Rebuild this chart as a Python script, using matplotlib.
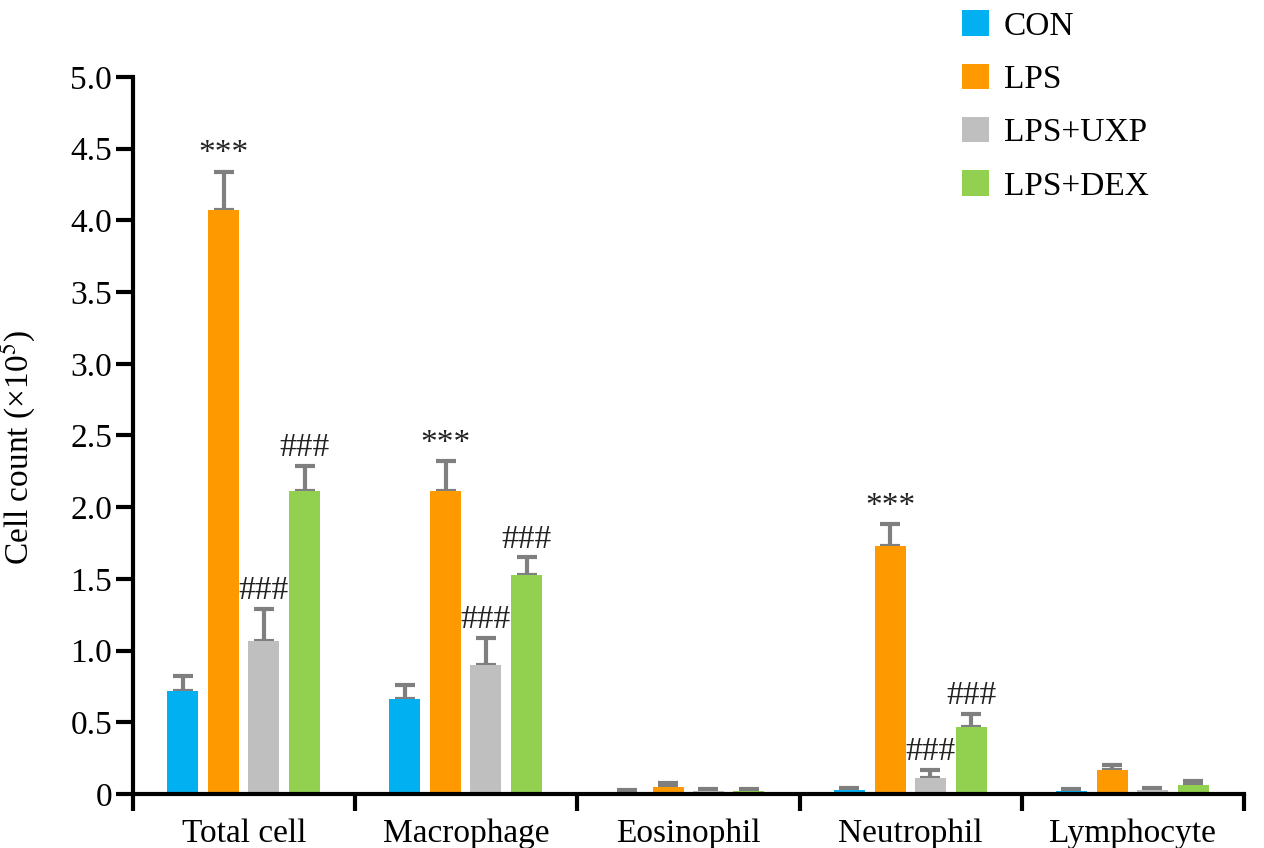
import matplotlib
matplotlib.use("Agg")
import matplotlib.pyplot as plt
import numpy as np

categories = ["Total cell", "Macrophage", "Eosinophil", "Neutrophil", "Lymphocyte"]
groups = ["CON", "LPS", "LPS+UXP", "LPS+DEX"]
colors = ["#00b0f0", "#ff9900", "#bfbfbf", "#92d050"]

con_mean = [0.72, 0.66, 0.015, 0.03, 0.02]
con_err = [0.10, 0.10, 0.015, 0.015, 0.015]
lps_mean = [4.07, 2.11, 0.05, 1.73, 0.17]
lps_err = [0.27, 0.21, 0.03, 0.15, 0.03]
uxp_mean = [1.07, 0.90, 0.02, 0.11, 0.025]
uxp_err = [0.22, 0.19, 0.015, 0.06, 0.02]
dex_mean = [2.11, 1.53, 0.02, 0.47, 0.065]
dex_err = [0.18, 0.12, 0.015, 0.09, 0.025]

lps_marks = ["***", "***", "", "***", ""]
uxp_marks = ["###", "###", "", "###", ""]
dex_marks = ["###", "###", "", "###", ""]

yticks = [0, 0.5, 1.0, 1.5, 2.0, 2.5, 3.0, 3.5, 4.0, 4.5, 5.0]
ytick_labels = ["0", "0.5", "1.0", "1.5", "2.0", "2.5", "3.0", "3.5", "4.0", "4.5", "5.0"]

plt.rcParams["font.family"] = ["Liberation Serif", "DejaVu Serif"]
plt.rcParams["mathtext.fontset"] = "stix"

FS = 24
fig = plt.figure(figsize=(12.64, 8.48), dpi=100)
ax = fig.add_axes([0.1052, 0.0637, 0.879, 0.8455])

means = [con_mean, lps_mean, uxp_mean, dex_mean]
errs = [con_err, lps_err, uxp_err, dex_err]
marks = [None, lps_marks, uxp_marks, dex_marks]
offsets = [-0.277, -0.092, 0.088, 0.272]
width = 0.14
centers = np.arange(len(categories)) + 0.5

for i in range(4):
    x = centers + offsets[i]
    ax.bar(x, means[i], width=width, color=colors[i], label=groups[i], zorder=2)
    ax.errorbar(x, means[i], yerr=[np.zeros(len(x)), errs[i]], fmt="none",
                ecolor="#7f7f7f", elinewidth=3, capsize=7, capthick=3, zorder=1)
    if marks[i] is not None:
        for xi, m, e, s in zip(x, means[i], errs[i], marks[i]):
            if s:
                ax.annotate(s, (xi, m + e), xytext=(0, 2), textcoords="offset points",
                            ha="center", va="bottom", fontsize=FS, color="#222222")

ax.set_xlim(0, 5)
ax.set_ylim(0, 5.0)
ax.set_yticks(yticks)
ax.set_yticklabels(ytick_labels, fontsize=FS)
ax.set_xticks(np.arange(0, 6))
ax.set_xticklabels([])
ax.set_xticks(centers, minor=True)
ax.set_xticklabels(categories, minor=True, fontsize=FS)
ax.tick_params(axis="x", which="minor", length=0, pad=18)
ax.tick_params(axis="x", which="major", length=12, width=3, direction="out")
ax.tick_params(axis="y", length=12, width=3, direction="out", pad=3)
ax.spines["top"].set_visible(False)
ax.spines["right"].set_visible(False)
ax.spines["left"].set_linewidth(3)
ax.spines["bottom"].set_linewidth(3)
ax.set_ylabel("Cell count (×10$^{5}$)", fontsize=FS)
ax.yaxis.set_label_coords(-0.0855, 0.483)

leg = fig.legend(loc="upper left", bbox_to_anchor=(0.7614, 0.988), bbox_transform=fig.transFigure,
                 frameon=False, fontsize=FS, handlelength=0.8, handleheight=0.8,
                 labelspacing=0.66, handletextpad=0.45, borderaxespad=0, borderpad=0)

fig.savefig("out.png", dpi=100)
